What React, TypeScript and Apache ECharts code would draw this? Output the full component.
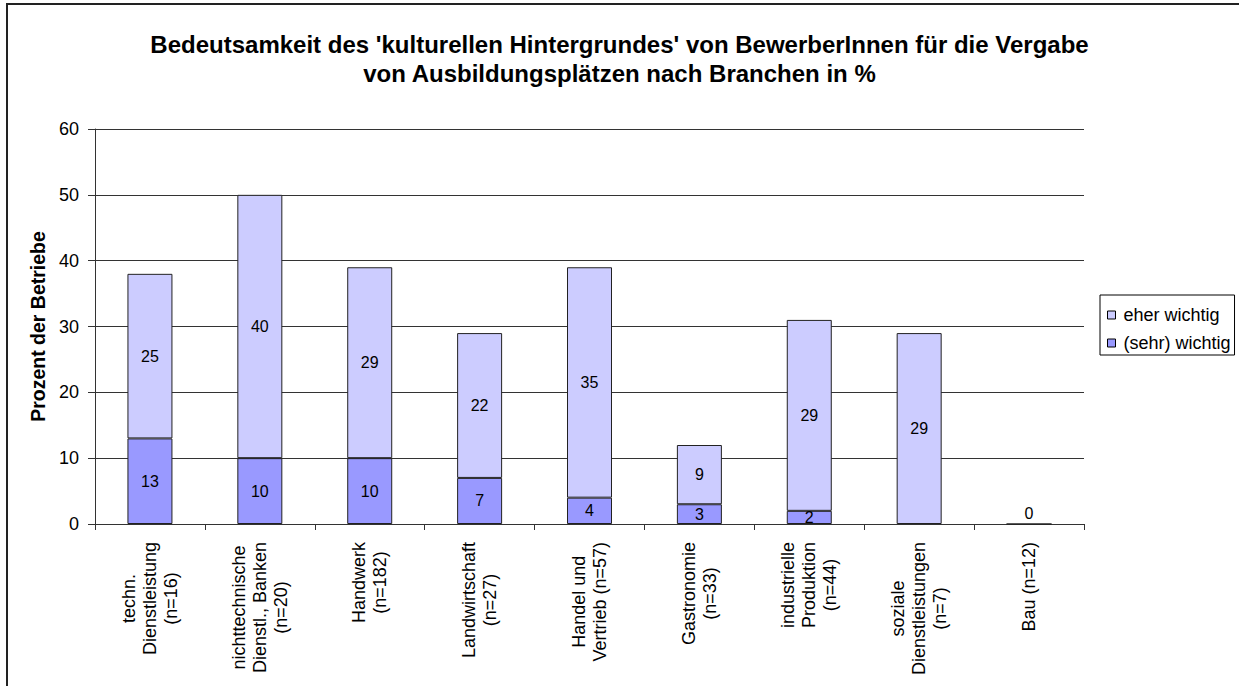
import React, { useEffect, useRef } from 'react';
import * as echarts from 'echarts';

const titleText =
  "Bedeutsamkeit des 'kulturellen Hintergrundes' von BewerberInnen für die Vergabe\nvon Ausbildungsplätzen nach Branchen in %";
const yAxisName = 'Prozent der Betriebe';

const categories = [
  'techn.\nDienstleistung\n(n=16)',
  'nichttechnische\nDienstl., Banken\n(n=20)',
  'Handwerk\n(n=182)',
  'Landwirtschaft\n(n=27)',
  'Handel und\nVertrieb (n=57)',
  'Gastronomie\n(n=33)',
  'industrielle\nProduktion\n(n=44)',
  'soziale\nDienstleistungen\n(n=7)',
  'Bau (n=12)',
];

const seriesNames = ['(sehr) wichtig', 'eher wichtig'];
const sehrWichtig: (number | null)[] = [13, 10, 10, 7, 4, 3, 2, null, null];
const eherWichtig: (number | null)[] = [25, 40, 29, 22, 35, 9, 29, 29, 0];

const yMin = 0;
const yMax = 60;
const yInterval = 10;

const FONT = "'Liberation Sans', Arial, Helvetica, sans-serif";

export default function App() {
  const ref = useRef<HTMLDivElement>(null);

  useEffect(() => {
    if (!ref.current) return;
    const chart = echarts.init(ref.current, undefined, { renderer: 'svg' });

    const labelStyle = {
      show: true,
      position: 'inside' as const,
      fontSize: 16,
      color: '#000',
      fontFamily: FONT,
    };

    const eherData = eherWichtig.map((v) =>
      v === 0 ? { value: v, label: { position: 'top', distance: 2 } } : v
    );

    chart.setOption({
      animation: false,
      backgroundColor: '#fff',
      textStyle: { fontFamily: FONT },
      title: {
        text: titleText,
        left: 'center',
        top: 30,
        padding: 0,
        textStyle: {
          fontSize: 24,
          fontWeight: 'bold',
          color: '#000',
          lineHeight: 29,
          fontFamily: FONT,
          align: 'center',
        },
      },
      graphic: [
        {
          type: 'rect',
          shape: { x: 7, y: 4, width: 1400, height: 900 },
          style: { fill: 'none', stroke: '#222', lineWidth: 2 },
          silent: true,
          z: -1,
        },
      ],
      legend: {
        orient: 'vertical',
        left: 1100,
        top: 295,
        data: ['eher wichtig', '(sehr) wichtig'],
        icon: 'rect',
        itemWidth: 8,
        itemHeight: 8,
        itemGap: 10,
        padding: [11, 4, 3, 7],
        borderColor: '#000',
        borderWidth: 1,
        itemStyle: { borderColor: '#000', borderWidth: 1 },
        textStyle: { fontSize: 18, color: '#000', fontFamily: FONT, padding: [0, 0, 0, 3] },
      },
      grid: {
        left: 95,
        right: 155,
        top: 129,
        bottom: 162,
      },
      xAxis: {
        type: 'category',
        data: categories,
        axisLine: { show: true, lineStyle: { color: '#333', width: 1 } },
        axisTick: { show: true, length: 6, lineStyle: { color: '#333' } },
        axisLabel: {
          rotate: 90,
          margin: 18,
          interval: 0,
          color: '#000',
          fontSize: 18,
          fontFamily: FONT,
          formatter: (v: string) =>
            v
              .split('\n')
              .map((l) => `{c|${l}}`)
              .join('\n'),
          rich: {
            c: {
              align: 'center',
              fontSize: 18,
              lineHeight: 21,
              color: '#000',
              fontFamily: FONT,
            },
          },
        },
      },
      yAxis: {
        type: 'value',
        min: yMin,
        max: yMax,
        interval: yInterval,
        name: yAxisName,
        nameLocation: 'middle',
        nameGap: 46,
        nameTextStyle: {
          fontSize: 19.5,
          fontWeight: 'bold',
          color: '#000',
          fontFamily: FONT,
        },
        axisLine: { show: true, lineStyle: { color: '#333', width: 1 } },
        axisTick: { show: true, length: 7, lineStyle: { color: '#333' } },
        axisLabel: {
          margin: 16,
          fontSize: 18,
          color: '#000',
          fontFamily: FONT,
        },
        splitLine: { show: true, lineStyle: { color: '#333', width: 1 } },
      },
      series: [
        {
          name: seriesNames[0],
          type: 'bar',
          stack: 'total',
          barWidth: 45,
          data: sehrWichtig,
          itemStyle: { color: '#9999FF', borderColor: '#222', borderWidth: 1 },
          label: labelStyle,
        },
        {
          name: seriesNames[1],
          type: 'bar',
          stack: 'total',
          barWidth: 45,
          data: eherData,
          itemStyle: { color: '#CCCCFF', borderColor: '#222', borderWidth: 1 },
          label: labelStyle,
        },
      ],
    });

    return () => {
      chart.dispose();
    };
  }, []);

  return (
    <div
      ref={ref}
      style={{ position: 'fixed', left: 0, top: 0, width: 1239, height: 686 }}
    />
  );
}
